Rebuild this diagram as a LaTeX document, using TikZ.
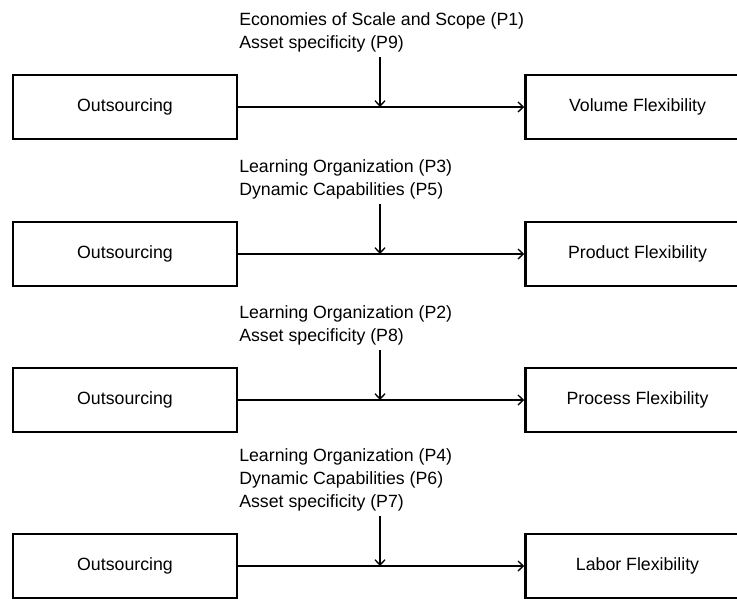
\documentclass[tikz,border=0pt]{standalone}
\usepackage{fontspec}
\setmainfont{Liberation Sans}
\usetikzlibrary{positioning}
\usetikzlibrary{arrows.meta}

\begin{document}
\begin{tikzpicture}[x=0.75pt, y=-0.75pt, node distance=214.5pt,
  font=\fontsize{13.3}{17.25}\selectfont,
  box/.style={draw, line width=1.9pt, minimum width=168pt, minimum height=48pt, inner sep=0pt},
  lbl/.style={anchor=north west, align=left, inner sep=0pt},
  link/.style={line width=1pt, -{Straight Barb[length=4pt,width=7.5pt]}}]
  \useasboundingbox (0,0) rectangle (737,601);
  \clip (0,0) rectangle (737,601);

  % volume
  \node[box] (Out1) at (125,107) {Outsourcing};
  \node[box] (Vol) [right=of Out1] {Volume Flexibility};
  \node[lbl] (M1) at (239,12) {Economies of Scale and Scope (P1)\\Asset specificity (P9)};
  \coordinate (T1) at (380,57);
  \coordinate (J1) at (380,107);
  \draw[link] (Out1) to (Vol);
  \draw[link] (T1) to (J1);

  % product
  \node[box] (Out2) at (125,254) {Outsourcing};
  \node[box] (Prod) [right=of Out2] {Product Flexibility};
  \node[lbl] (M2) at (239,159) {Learning Organization (P3)\\Dynamic Capabilities (P5)};
  \coordinate (T2) at (380,204);
  \coordinate (J2) at (380,254);
  \draw[link] (Out2) to (Prod);
  \draw[link] (T2) to (J2);

  % process
  \node[box] (Out3) at (125,400) {Outsourcing};
  \node[box] (Proc) [right=of Out3] {Process Flexibility};
  \node[lbl] (M3) at (239,305) {Learning Organization (P2)\\Asset specificity (P8)};
  \coordinate (T3) at (380,350);
  \coordinate (J3) at (380,400);
  \draw[link] (Out3) to (Proc);
  \draw[link] (T3) to (J3);

  % labor
  \node[box] (Out4) at (125,566) {Outsourcing};
  \node[box] (Lab) [right=of Out4] {Labor Flexibility};
  \node[lbl] (M4) at (239,448) {Learning Organization (P4)\\Dynamic Capabilities (P6)\\Asset specificity (P7)};
  \coordinate (T4) at (380,516);
  \coordinate (J4) at (380,566);
  \draw[link] (Out4) to (Lab);
  \draw[link] (T4) to (J4);
\end{tikzpicture}
\end{document}
